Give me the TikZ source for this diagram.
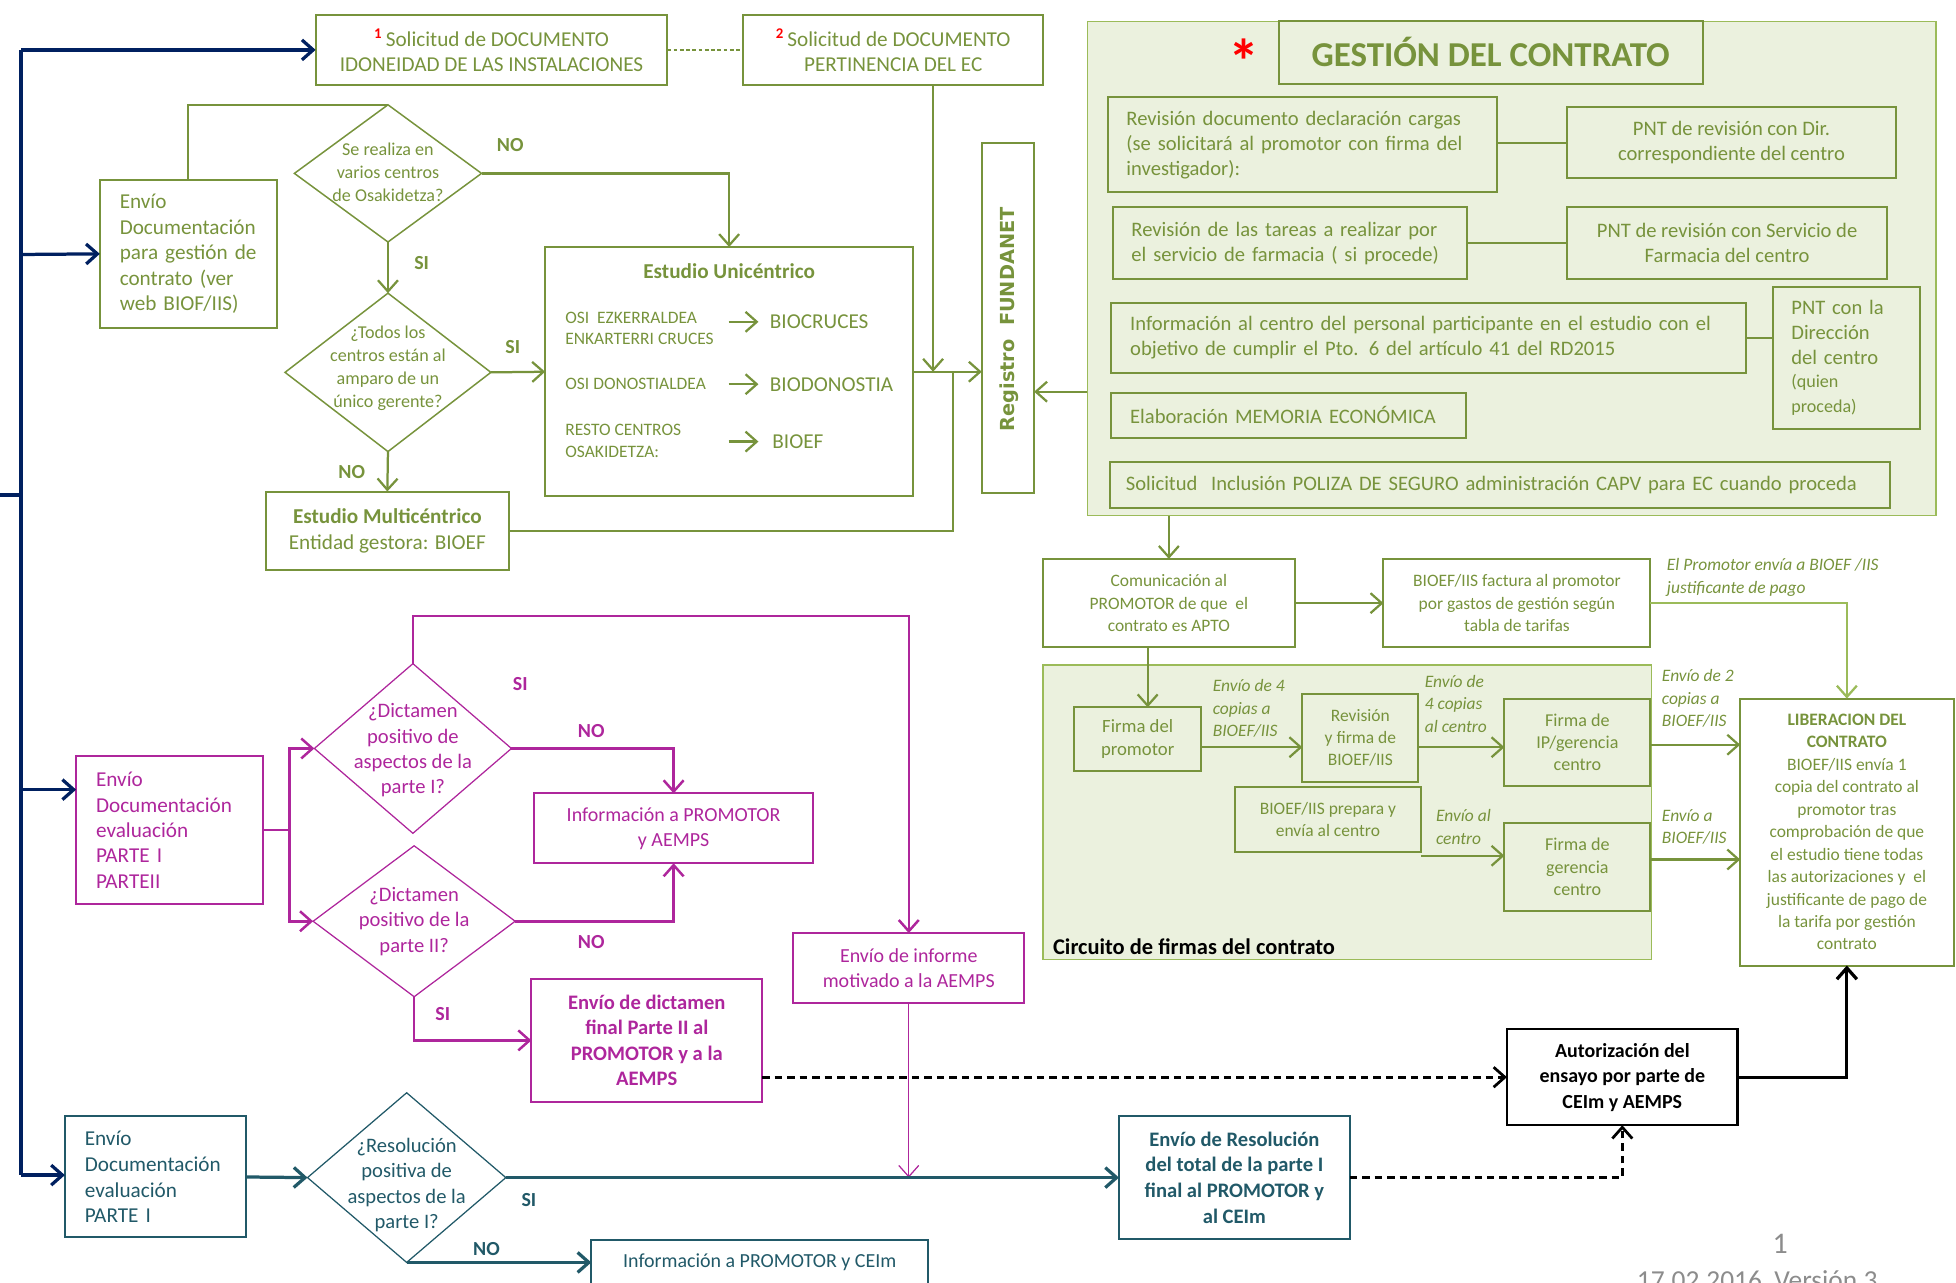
\documentclass[tikz,border=0pt]{standalone}
\usepackage{fontspec}
\setmainfont{Carlito}
\newfontfamily\dvb{DejaVu Sans}
\usetikzlibrary{arrows.meta,shapes.geometric}
\newcommand\fz[2]{\fontsize{#1}{#2}\selectfont}
\definecolor{gG}{RGB}{119,147,60}
\definecolor{gL}{RGB}{155,187,89}
\definecolor{gF}{RGB}{235,241,222}
\definecolor{mag}{RGB}{174,38,156}
\definecolor{tea}{RGB}{33,89,104}
\definecolor{navy}{RGB}{0,32,96}
\definecolor{pg}{RGB}{140,140,140}
\tikzset{
  >={Straight Barb[length=9pt,width=16pt]},
  box/.style={rectangle, inner sep=0pt, outer sep=0pt, align=center, line width=1.6pt},
  gbox/.style={box, draw=gG, text=gG},
  mbox/.style={box, draw=mag, text=mag},
  tbox/.style={box, draw=tea, text=tea},
  kbox/.style={box, draw=black, text=black, line width=2pt},
  panel/.style={rectangle, draw=gL, fill=gF, line width=1pt, inner sep=0pt},
  dia/.style={diamond, inner sep=0pt, outer sep=0pt, line width=1.2pt},
  gtxt/.style={text=gG, align=center, inner sep=0pt},
  mtxt/.style={text=mag, align=center, inner sep=0pt},
  ttxt/.style={text=tea, align=center, inner sep=0pt},
  lab/.style={font=\bfseries\fz{16}{16}, inner sep=0pt},
  itl/.style={anchor=west, align=left, text=gG, font=\itshape\fz{14}{18}, inner sep=0pt},
  gl/.style={draw=gG, line width=1.8pt},
  ga/.style={gl, ->},
  lga/.style={draw=gL, line width=1.8pt, ->},
  ml/.style={draw=mag, line width=2pt},
  ma/.style={ml, ->},
  mthin/.style={draw=mag, line width=1pt, ->},
  ta/.style={draw=tea, line width=2.6pt, ->},
  nl/.style={draw=navy, line width=3.2pt},
  na/.style={draw=navy, line width=2.6pt, ->},
  ka/.style={draw=black, line width=2.6pt, ->},
  kd/.style={draw=black, line width=2.2pt, dash pattern=on 6pt off 4pt, ->},
}
\begin{document}
\begin{tikzpicture}[x=1pt, y=-1pt]
\useasboundingbox (0,0) rectangle (1568,1028);
\clip (0,0) rectangle (1568,1028);

% ---------- panels ----------
\node[panel, minimum width=680pt, minimum height=396pt] (gp) at (1212,215) {};
\node[panel, minimum width=488pt, minimum height=236pt] (cp) at (1080,651) {};

% ---------- top requests ----------
\node[gbox, minimum width=282pt, minimum height=56pt, font=\fz{17}{20}] (s1) at (394,40)
  {\textcolor{red}{\textsuperscript{\textbf{1}}}\,Solicitud de DOCUMENTO\\IDONEIDAD DE LAS INSTALACIONES};
\node[gbox, minimum width=240pt, minimum height=56pt, font=\fz{17}{20}] (pe) at (716,40)
  {\textcolor{red}{\textsuperscript{\textbf{2}}}\,Solicitud de DOCUMENTO\\PERTINENCIA DEL EC};

% ---------- green left part ----------
\node[gbox, align=left, text width=110pt, minimum width=142pt, minimum height=119pt, font=\fz{17}{20.5}] (envg) at (151,203.5)
  {Envío\\Documentación\\para gestión de\\contrato (ver\\web BIOF/IIS)};
\node[dia, draw=gG, minimum width=150pt, minimum height=110pt] (d1) at (311,139) {};
\node[gtxt, font=\fz{14.5}{18.5}] (d1t) at (311,138) {Se realiza en\\varios centros\\de Osakidetza?};
\node[dia, draw=gG, minimum width=165pt, minimum height=127pt] (d2) at (311,298.5) {};
\node[gtxt, font=\fz{14.5}{18.5}] (d2t) at (311,295.5) {¿Todos los\\centros están al\\amparo de un\\único gerente?};
\node[gbox, minimum width=295pt, minimum height=200pt] (uni) at (584.5,298) {};
\node[gtxt, font=\bfseries\fz{17}{20}] (unit) at (584.5,217) {Estudio Unicéntrico};
\node[gtxt, anchor=west, align=left, font=\fz{14}{17}] (u1a) at (453,263.5) {OSI\ \ EZKERRALDEA\\ENKARTERRI CRUCES};
\node[gtxt, anchor=west, font=\fz{17}{20}] (u1b) at (617,258) {BIOCRUCES};
\node[gtxt, anchor=west, font=\fz{14}{17}] (u2a) at (453,308) {OSI DONOSTIALDEA};
\node[gtxt, anchor=west, font=\fz{17}{20}] (u2b) at (617,308) {BIODONOSTIA};
\node[gtxt, anchor=west, align=left, font=\fz{14}{17}] (u3a) at (453,353.5) {RESTO CENTROS\\OSAKIDETZA:};
\node[gtxt, anchor=west, font=\fz{17}{20}] (u3b) at (619,354) {BIOEF};
\draw[ga] ([xshift=-33pt]u1b.west) -- ([xshift=-9pt]u1b.west);
\draw[ga] ([xshift=-33pt]u2b.west) -- ([xshift=-9pt]u2b.west);
\draw[ga] ([xshift=-35pt]u3b.west) -- ([xshift=-11pt]u3b.west);
\node[gbox, minimum width=195pt, minimum height=63pt, font=\fz{17}{21}] (multi) at (310.5,425.5)
  {\textbf{Estudio Multicéntrico}\\Entidad gestora: BIOEF};
\node[gbox, minimum width=42pt, minimum height=280pt] (reg) at (808,255) {};
\node[gtxt, rotate=90, font=\dvb\bfseries\fz{15.5}{18}] (regt) at (809,256) {Registro\ \ FUNDANET};

% ---------- gestion del contrato ----------
\node[gbox, minimum width=340pt, minimum height=50pt, font=\bfseries\fz{28}{30}] (gt) at (1195,42) {GESTIÓN DEL CONTRATO};
\node[text=red, font=\bfseries\fz{50}{50}, inner sep=0pt, anchor=north] (ast) at (997,31) {*};
\node[gbox, align=left, text width=282pt, minimum width=312pt, minimum height=76pt, font=\fz{16.5}{20}] (g1) at (1044,116)
  {Revisión documento declaración cargas\\(se solicitará al promotor con firma del\\investigador):};
\node[gbox, minimum width=264pt, minimum height=57pt, font=\fz{16.5}{20}] (p1) at (1388,114.5)
  {PNT de revisión con Dir.\\correspondiente del centro};
\node[gbox, align=left, text width=254pt, minimum width=284pt, minimum height=58pt, font=\fz{16.5}{20}] (g2) at (1034,195)
  {Revisión de las tareas a realizar por\\el servicio de farmacia ( si procede)};
\node[gbox, minimum width=257pt, minimum height=58pt, font=\fz{16.5}{20}] (p2) at (1384.5,195)
  {PNT de revisión con Servicio de\\Farmacia del centro};
\node[gbox, align=left, text width=479pt, minimum width=509pt, minimum height=56pt, font=\fz{16.5}{20}] (g3) at (1145.5,271)
  {Información al centro del personal participante en el estudio con el\\objetivo de cumplir el Pto. 6 del artículo 41 del RD2015};
\node[gbox, align=left, text width=88pt, minimum width=118pt, minimum height=114pt, font=\fz{16.5}{20}] (p3) at (1480,287)
  {PNT con la\\Dirección\\del centro\\\fz{14.5}{18.5}(quien\\proceda)};
\node[gbox, align=left, text width=254pt, minimum width=284pt, minimum height=36pt, font=\fz{16.5}{20}] (g4) at (1033,333)
  {Elaboración MEMORIA ECONÓMICA};
\node[gbox, align=left, text width=600pt, minimum width=625pt, minimum height=37pt, font=\fz{16.5}{20}] (g5) at (1202.5,388.5)
  {Solicitud\ \ Inclusión POLIZA DE SEGURO administración CAPV para EC cuando proceda};
\draw[gl] (g1.east |- p1.west) -- (p1.west);
\draw[gl] (g2.east) -- (p2.west);
\draw[gl] (g3.east) -- (p3.west |- g3.east);

% ---------- comunicacion / circuito ----------
\node[gbox, minimum width=202pt, minimum height=71pt, font=\fz{14}{18}] (com) at (937,483.5)
  {Comunicación al\\PROMOTOR de que\ \ el\\contrato es APTO};
\node[gbox, minimum width=214pt, minimum height=71pt, font=\fz{14}{18}] (fac) at (1216,483.5)
  {BIOEF/IIS factura al promotor\\por gastos de gestión según\\tabla de tarifas};
\node[anchor=west, font=\bfseries\fz{18}{20}, text=black, inner sep=0pt] (cl) at (844,759) {Circuito de firmas del contrato};
\node[gbox, minimum width=102pt, minimum height=51pt, font=\fz{15}{19}] (fp) at (912,592.5) {Firma del\\promotor};
\node[gbox, minimum width=93pt, minimum height=71pt, font=\fz{14}{17.5}] (rv) at (1090.5,591.5) {Revisión\\y firma de\\BIOEF/IIS};
\node[gbox, minimum width=117pt, minimum height=70pt, font=\fz{14.5}{18}] (fip) at (1264.5,595) {Firma de\\IP/gerencia\\centro};
\node[gbox, minimum width=149pt, minimum height=52pt, font=\fz{14}{18}] (prep) at (1064.5,657) {BIOEF/IIS prepara y\\envía al centro};
\node[gbox, minimum width=117pt, minimum height=70pt, font=\fz{14.5}{18}] (fger) at (1264.5,695) {Firma de\\gerencia\\centro};
\node[gbox, minimum width=171pt, minimum height=214pt, font=\fz{14}{18}] (lib) at (1480.5,667)
  {\textbf{LIBERACION DEL}\\\textbf{CONTRATO}\\BIOEF/IIS envía 1\\copia del contrato al\\promotor tras\\comprobación de que\\el estudio tiene todas\\las autorizaciones y\ \ el\\justificante de pago de\\la tarifa por gestión\\contrato};
\node[kbox, minimum width=185pt, minimum height=77pt, font=\bfseries\fz{16}{20.5}] (aut) at (1300.5,863.5)
  {Autorización del\\ensayo por parte de\\CEIm y AEMPS};

\node[itl] (l1) at (972,568) {Envío de 4\\copias a\\BIOEF/IIS};
\node[itl] (l2) at (1142,564) {Envío de\\4 copias\\al centro};
\node[itl] (l3) at (1151,663) {Envío al\\centro};
\node[itl] (l4) at (1332,560) {Envío de 2\\copias a\\BIOEF/IIS};
\node[itl] (l5) at (1332,663) {Envío a\\BIOEF/IIS};
\node[itl] (l6) at (1336,463) {El Promotor envía a BIOEF /IIS\\justificante de pago};

% ---------- magenta ----------
\node[mbox, align=left, text width=118pt, minimum width=150pt, minimum height=119pt, font=\fz{17}{20.3}] (menv) at (136,665.5)
  {Envío\\Documentación\\evaluación\\PARTE I\\PARTEII};
\node[dia, draw=mag, line width=1pt, minimum width=158pt, minimum height=136pt] (d3) at (331,600) {};
\node[mtxt, font=\fz{16.5}{20.3}] (d3t) at (331,601.5) {¿Dictamen\\positivo de\\aspectos de la\\parte I?};
\node[dia, draw=mag, line width=1pt, minimum width=162pt, minimum height=121pt] (d4) at (332,738.5) {};
\node[mtxt, font=\fz{16.5}{20.3}] (d4t) at (332,738.5) {¿Dictamen\\positivo de la\\parte II?};
\node[mbox, minimum width=224pt, minimum height=56pt, font=\fz{16}{20}] (minf) at (540,664) {Información a PROMOTOR\\y AEMPS};
\node[mbox, minimum width=185pt, minimum height=98pt, font=\bfseries\fz{16.5}{20.5}] (mdict) at (518.5,834)
  {Envío de dictamen\\final Parte II al\\PROMOTOR y a la\\AEMPS};
\node[mbox, minimum width=185pt, minimum height=56pt, font=\fz{16}{20}] (minfo) at (728.5,776) {Envío de informe\\motivado a la AEMPS};

% ---------- teal ----------
\node[tbox, align=left, text width=113pt, minimum width=145pt, minimum height=97pt, font=\fz{17}{20.5}] (tenv) at (124.5,943.5)
  {Envío\\Documentación\\evaluación\\PARTE I};
\node[dia, draw=tea, line width=1pt, minimum width=159pt, minimum height=136pt] (d5) at (326,944) {};
\node[ttxt, font=\fz{16.5}{20.5}] (d5t) at (326,950) {¿Resolución\\positiva de\\aspectos de la\\parte I?};
\node[tbox, minimum width=185pt, minimum height=98pt, font=\bfseries\fz{16.5}{20.5}] (tres) at (989.5,944)
  {Envío de Resolución\\del total de la parte I\\final al PROMOTOR y\\al CEIm};
\node[tbox, minimum width=270pt, minimum height=36pt, font=\fz{16}{20}] (tinf) at (609,1012) {Información a PROMOTOR y CEIm};

% ---------- page footer ----------
\node[text=pg, font=\fz{24}{24}, inner sep=0pt] (pn) at (1427,997) {1};
\node[text=pg, anchor=west, font=\fz{22}{24}, inner sep=0pt] (dt) at (1312,1026) {17.02.2016\ \ Versión 3};

% ---------- navy bus ----------
\coordinate (bt) at (17,40);
\coordinate (bb) at (17,942);
\draw[nl] (bt) -- (bb);
\draw[nl] (0,397) -- (17,397);
\draw[na] (bt) -- (s1.west);
\draw[na] (17,204) -- (envg.west);
\draw[na] (17,633) -- (menv.west |- 0,633);
\draw[na] (bb) -- (tenv.west |- bb);

% ---------- green connectors ----------
\draw[gl, dash pattern=on 3pt off 2pt, line width=1.5pt] (s1.east) -- (pe.west);
\draw[gl] (envg.north) |- (d1.north);
\draw[ga] (d1.east) -| (uni.north);
\draw[ga] (d1.south) -- (d2.north);
\draw[ga] (d2.east) -- (uni.west);
\draw[ga] (d2.south) -- (multi.north);
\draw[ga] ([xshift=32pt]pe.south) -- ([xshift=32pt]pe.south |- uni.east);
\draw[ga] (uni.east) -- (reg.west |- uni.east);
\draw[gl] (multi.east) -| (764,298);
\draw[ga] (gp.west |- 0,314) -- (reg.east |- 0,314);
\node[lab, text=gG] at (409,116) {NO};
\node[lab, text=gG] at (338,211) {SI};
\node[lab, text=gG] at (411,278) {SI};
\node[lab, text=gG] at (282,378) {NO};

\draw[ga] (gp.south -| com.north) -- (com.north);
\draw[ga] (com.east) -- (fac.west);
\draw[lga] (fac.east) -| (lib.north);
\draw[ga] ([xshift=-17pt]com.south) -- ([xshift=-17pt]com.south |- fp.north);
\draw[ga] (fp.east |- 0,599) -- (rv.west |- 0,599);
\draw[ga] (rv.east |- 0,599) -- (fip.west |- 0,599);
\draw[ga] (prep.east |- 0,686) -- (fger.west |- 0,686);
\draw[ga] (fip.east |- 0,597) -- (lib.west |- 0,597);
\draw[ga] (fger.east |- 0,689) -- (lib.west |- 0,689);

% ---------- black ----------
\draw[ka] (aut.east) -| (lib.south);
\draw[kd] (mdict.east |- aut.west) -- (aut.west);
\draw[kd] (tres.east) -| (aut.south);

% ---------- magenta connectors ----------
\coordinate (mj) at (232,665.5);
\draw[ml] (menv.east) -- (mj);
\draw[ma] (mj) |- (d3.west);
\draw[ma] (mj) |- (d4.west);
\draw[ma] (d3.north) -- (d3.north |- 0,494) -| (minfo.north);
\draw[ma] (d3.east) -| (minf.north);
\draw[ma] (d4.east) -| (minf.south);
\draw[ma] (d4.south) |- (mdict.west);
\draw[mthin] (minfo.south) -- (minfo.south |- d5.east);
\node[lab, text=mag] at (417,548) {SI};
\node[lab, text=mag] at (474,586) {NO};
\node[lab, text=mag] at (474,755) {NO};
\node[lab, text=mag] at (355,813) {SI};

% ---------- teal connectors ----------
\draw[ta] (tenv.east) -- (d5.west);
\draw[ta] (d5.east) -- (tres.west);
\draw[ta] (d5.south) -- (tinf.west |- d5.south);
\node[lab, text=tea] at (424,962) {SI};
\node[lab, text=tea] at (390,1001) {NO};
\end{tikzpicture}
\end{document}
